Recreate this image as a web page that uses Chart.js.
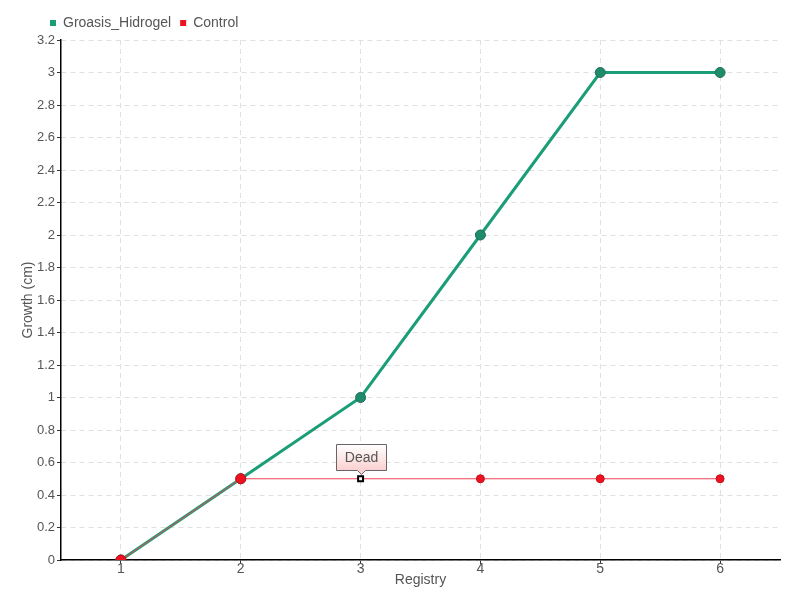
<!DOCTYPE html>
<html>
<head>
<meta charset="utf-8">
<script src="https://cdn.jsdelivr.net/npm/chart.js@4"></script>
<style>
  html, body { margin: 0; padding: 0; background: #fff; }
  #wrap { width: 800px; height: 600px; }
</style>
</head>
<body>
<div id="wrap"><canvas id="growthChart" width="800" height="600"></canvas></div>
<script>
  // chart data
  const registries = ['1', '2', '3', '4', '5', '6'];
  const groasisValues = [0, 0.5, 1, 2, 3, 3];
  const controlValues = [0, 0.5, 0.5, 0.5, 0.5, 0.5];
  const deadIndex = 2;
  const deadLabel = 'Dead';

  const fontFamily = '"Liberation Sans", Arial, sans-serif';
  const textColor = '#555';

  // "Dead" callout above the control point
  const calloutPlugin = {
    id: 'callout',
    afterDatasetsDraw(chart) {
      const ctx = chart.ctx;
      const meta = chart.getDatasetMeta(1);
      const pt = meta.data[deadIndex];
      const x = Math.round(pt.x) + 0.5;
      const yTip = Math.round(pt.y) - 4.5;
      const w = 50, h = 26;
      const top = yTip - 4 - h;
      ctx.save();
      const grad = ctx.createLinearGradient(0, top, 0, top + h);
      grad.addColorStop(0, '#ffffff');
      grad.addColorStop(1, '#fbd0d0');
      ctx.beginPath();
      ctx.moveTo(x - w / 2, top);
      ctx.lineTo(x + w / 2, top);
      ctx.lineTo(x + w / 2, top + h);
      ctx.lineTo(x + 4, top + h);
      ctx.lineTo(x, yTip);
      ctx.lineTo(x - 4, top + h);
      ctx.lineTo(x - w / 2, top + h);
      ctx.closePath();
      ctx.fillStyle = grad;
      ctx.fill();
      ctx.strokeStyle = '#666';
      ctx.lineWidth = 1;
      ctx.stroke();
      ctx.fillStyle = textColor;
      ctx.font = '14px ' + fontFamily;
      ctx.textAlign = 'center';
      ctx.textBaseline = 'middle';
      ctx.fillText(deadLabel, x, top + h / 2 + 1);
      ctx.restore();
    }
  };

  // nudge the legend to the right, like the original
  const legendShift = {
    id: 'legendShift',
    afterLayout(chart) {
      chart.legend.left = 41;
    }
  };

  const controlStyles = registries.map((r, i) => i === deadIndex ? 'rect' : 'circle');
  const controlFill = registries.map((r, i) => i === deadIndex ? '#ffffff' : '#ee1122');
  const controlBorder = registries.map((r, i) => i === deadIndex ? '#000000' : '#c4101a');
  const controlRadius = registries.map((r, i) => i === deadIndex ? 3.5 : (i < 2 ? 5 : 4));

  new Chart(document.getElementById('growthChart').getContext('2d'), {
    type: 'line',
    data: {
      labels: registries,
      datasets: [{
        label: 'Groasis_Hidrogel',
        data: groasisValues,
        borderColor: '#1b9e77',
        backgroundColor: '#1b9e77',
        borderWidth: 3,
        pointRadius: 5,
        pointBackgroundColor: '#1d8c6b',
        pointBorderColor: '#246b55',
        pointBorderWidth: 1,
        tension: 0,
        order: 2
      }, {
        label: 'Control',
        data: controlValues,
        borderColor: '#ee4455',
        backgroundColor: '#ee1122',
        borderWidth: 1,
        pointStyle: controlStyles,
        pointRadius: controlRadius,
        pointBackgroundColor: controlFill,
        pointBorderColor: controlBorder,
        pointBorderWidth: controlStyles.map(s => s === 'rect' ? 2 : 1),
        tension: 0,
        order: 1
      }]
    },
    options: {
      responsive: false,
      animation: false,
      layout: { padding: { top: 7, right: 20, bottom: 0, left: 0 } },
      plugins: {
        legend: {
          display: true,
          align: 'start',
          labels: {
            boxWidth: 6,
            boxHeight: 6,
            padding: 9,
            color: textColor,
            font: { family: fontFamily, size: 14 },
            generateLabels(chart) {
              return chart.data.datasets.map((ds, i) => ({
                text: ds.label,
                fillStyle: ds.backgroundColor,
                strokeStyle: ds.backgroundColor,
                fontColor: textColor,
                lineWidth: 0,
                datasetIndex: i
              }));
            }
          }
        },
        tooltip: { enabled: false }
      },
      scales: {
        x: {
          offset: true,
          title: {
            display: true,
            text: 'Registry',
            color: textColor,
            font: { family: fontFamily, size: 14 },
            padding: { top: 0, bottom: 11 }
          },
          grid: {
            color: '#e0e0e0',
            tickColor: '#333',
            tickLength: 4,
            offset: false
          },
          border: { color: '#000', width: 1.5, dash: [5, 4] },
          ticks: {
            color: textColor,
            font: { family: fontFamily, size: 14 },
            padding: -3
          },
          afterFit(scale) { scale.height = 40; }
        },
        y: {
          min: 0,
          max: 3.2,
          title: {
            display: true,
            text: 'Growth (cm)',
            color: textColor,
            font: { family: fontFamily, size: 14 },
            padding: { top: 20, bottom: 0 }
          },
          grid: {
            color: '#e0e0e0',
            tickColor: '#333',
            tickLength: 4
          },
          border: { color: '#000', width: 1.5, dash: [5, 4] },
          ticks: {
            stepSize: 0.2,
            color: textColor,
            font: { family: fontFamily, size: 13 },
            padding: 2,
            callback: v => String(Math.round(v * 10) / 10)
          },
          afterFit(scale) { scale.width = 61; }
        }
      }
    },
    plugins: [calloutPlugin, legendShift]
  });
</script>
</body>
</html>
